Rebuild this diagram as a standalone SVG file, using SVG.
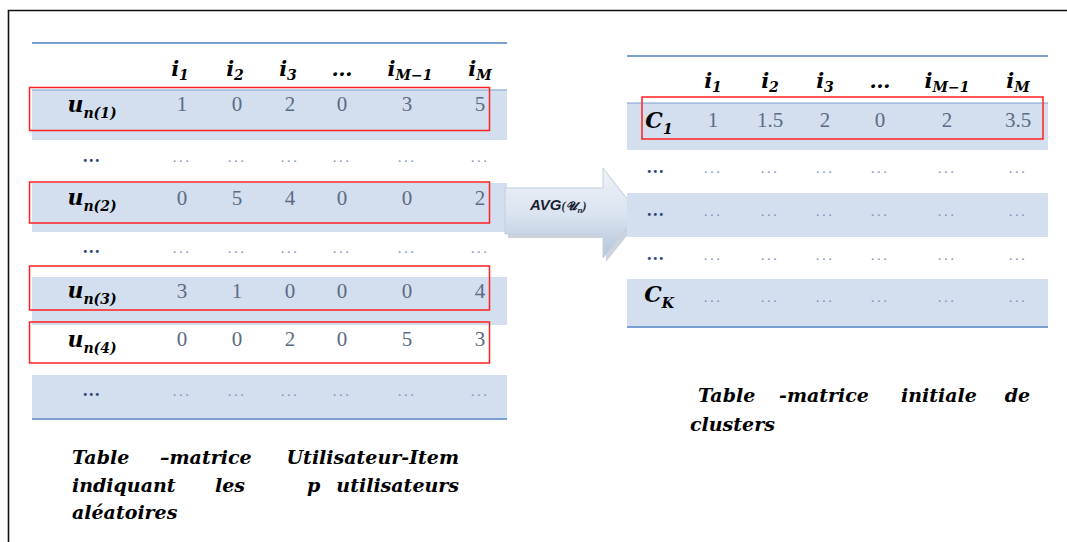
<svg xmlns="http://www.w3.org/2000/svg" width="1067" height="542" viewBox="0 0 1067 542">
<defs>
<linearGradient id="ag" x1="0" y1="0" x2="0" y2="1">
<stop offset="0" stop-color="#eef2f8"/>
<stop offset="0.5" stop-color="#dbe4f0"/>
<stop offset="1" stop-color="#b4c4da"/>
</linearGradient>
<style>
.shade{fill:#d3dfee}
.rule{stroke:#7b9fcf;stroke-width:2}
.thin{stroke:#7b9fcf;stroke-width:1.2}
.red{fill:none;stroke:#ff2020;stroke-width:1.5}
.hd{font-family:"DejaVu Serif",serif;font-weight:bold;font-style:italic;font-size:21px;fill:#000;text-anchor:middle}
.sub{font-size:14px}
.val{font-family:"Liberation Serif",serif;font-size:21px;fill:#5b6b84;text-anchor:middle}
.dot{font-family:"Liberation Serif",serif;font-size:15px;fill:#7f93b8;text-anchor:middle;letter-spacing:2.5px}
.bdot{font-family:"Liberation Serif",serif;font-size:18px;font-weight:bold;fill:#30487a;text-anchor:middle;letter-spacing:1.5px}
.lbl{font-family:"DejaVu Serif",serif;font-weight:bold;font-style:italic;font-size:22px;fill:#000;text-anchor:middle}
.cap{font-family:"DejaVu Serif",serif;font-weight:bold;font-style:italic;font-size:19px;fill:#000}
</style>
</defs>
<rect width="1067" height="542" fill="#fff"/>
<path d="M8.5,542 V10.5 H1067" fill="none" stroke="#111" stroke-width="1.6"/>

<g id="left-table">
<line class="rule" x1="32" y1="43" x2="507" y2="43"/>
<rect class="shade" x="32" y="90" width="475" height="50"/>
<line class="thin" x1="32" y1="90" x2="507" y2="90"/>
<rect class="shade" x="32" y="183" width="475" height="49"/>
<rect class="shade" x="32" y="277" width="475" height="48"/>
<rect class="shade" x="32" y="375" width="475" height="43"/>
<line class="rule" x1="32" y1="419" x2="507" y2="419"/>
<g class="hdr">
<text class="hd" x="180" y="76">i<tspan class="sub" dy="4">1</tspan></text>
<text class="hd" x="235" y="76">i<tspan class="sub" dy="4">2</tspan></text>
<text class="hd" x="288" y="76">i<tspan class="sub" dy="4">3</tspan></text>
<text class="hd" x="342" y="76">…</text>
<text class="hd" x="410" y="76">i<tspan class="sub" dy="4">M−1</tspan></text>
<text class="hd" x="480" y="76">i<tspan class="sub" dy="4">M</tspan></text>
</g>
<g id="row-un1">
<text class="lbl" x="92" y="112">u<tspan class="sub" font-size="15" dy="6">n(1)</tspan></text>
<text class="val" x="182" y="111">1</text><text class="val" x="237" y="111">0</text><text class="val" x="290" y="111">2</text><text class="val" x="342" y="111">0</text><text class="val" x="407" y="111">3</text><text class="val" x="480" y="111">5</text>
</g>
<g id="row-dots1">
<text class="bdot" x="92" y="162">...</text>
<text class="dot" x="182" y="162">...</text><text class="dot" x="237" y="162">...</text><text class="dot" x="290" y="162">...</text><text class="dot" x="342" y="162">...</text><text class="dot" x="407" y="162">...</text><text class="dot" x="480" y="162">...</text>
</g>
<g id="row-un2">
<text class="lbl" x="92" y="205">u<tspan class="sub" font-size="15" dy="6">n(2)</tspan></text>
<text class="val" x="182" y="205">0</text><text class="val" x="237" y="205">5</text><text class="val" x="290" y="205">4</text><text class="val" x="342" y="205">0</text><text class="val" x="407" y="205">0</text><text class="val" x="480" y="205">2</text>
</g>
<g id="row-dots2">
<text class="bdot" x="92" y="253">...</text>
<text class="dot" x="182" y="253">...</text><text class="dot" x="237" y="253">...</text><text class="dot" x="290" y="253">...</text><text class="dot" x="342" y="253">...</text><text class="dot" x="407" y="253">...</text><text class="dot" x="480" y="253">...</text>
</g>
<g id="row-un3">
<text class="lbl" x="92" y="298">u<tspan class="sub" font-size="15" dy="6">n(3)</tspan></text>
<text class="val" x="182" y="298">3</text><text class="val" x="237" y="298">1</text><text class="val" x="290" y="298">0</text><text class="val" x="342" y="298">0</text><text class="val" x="407" y="298">0</text><text class="val" x="480" y="298">4</text>
</g>
<g id="row-un4">
<text class="lbl" x="92" y="347">u<tspan class="sub" font-size="15" dy="6">n(4)</tspan></text>
<text class="val" x="182" y="346">0</text><text class="val" x="237" y="346">0</text><text class="val" x="290" y="346">2</text><text class="val" x="342" y="346">0</text><text class="val" x="407" y="346">5</text><text class="val" x="480" y="346">3</text>
</g>
<g id="row-dots3">
<text class="bdot" x="92" y="396">...</text>
<text class="dot" x="182" y="396">...</text><text class="dot" x="237" y="396">...</text><text class="dot" x="290" y="396">...</text><text class="dot" x="342" y="396">...</text><text class="dot" x="407" y="396">...</text><text class="dot" x="480" y="396">...</text>
</g>
</g>

<g id="highlights-left">
<rect class="red" x="29.5" y="87.5" width="460" height="43"/>
<rect class="red" x="29.5" y="182" width="460" height="41"/>
<rect class="red" x="29.5" y="266" width="460" height="44"/>
<rect class="red" x="29.5" y="322" width="460" height="41"/>
</g>

<g id="avg-arrow">
<polygon points="508,192 606,192 606,172 642,217 606,262 606,238 508,238" fill="#9aa8bb" opacity="0.5"/>
<polygon points="505,188 603,188 603,168 638,213 603,258 603,234 505,234" fill="url(#ag)" stroke="#c2cfe0" stroke-width="1"/>
<text x="530" y="210" font-family="Liberation Sans,sans-serif" font-weight="bold" font-style="italic" font-size="15" fill="#1a1f33">AVG<tspan font-size="12" font-family="Liberation Serif,serif">(</tspan><tspan font-size="12" dx="1" font-family="Liberation Serif,serif">𝓤</tspan><tspan font-size="9" dy="3" font-family="Liberation Serif,serif">n</tspan><tspan font-size="12" dy="-3" font-family="Liberation Serif,serif">)</tspan></text>
</g>

<g id="right-table">
<line class="rule" x1="627" y1="56" x2="1048" y2="56"/>
<rect class="shade" x="627" y="103" width="421" height="47"/>
<line class="thin" x1="627" y1="103" x2="1048" y2="103"/>
<rect class="shade" x="627" y="193" width="421" height="44"/>
<rect class="shade" x="627" y="279" width="421" height="48"/>
<line class="rule" x1="627" y1="327" x2="1048" y2="327"/>
<g class="hdr">
<text class="hd" x="713" y="88">i<tspan class="sub" dy="4">1</tspan></text>
<text class="hd" x="770" y="88">i<tspan class="sub" dy="4">2</tspan></text>
<text class="hd" x="825" y="88">i<tspan class="sub" dy="4">3</tspan></text>
<text class="hd" x="880" y="88">…</text>
<text class="hd" x="947" y="88">i<tspan class="sub" dy="4">M−1</tspan></text>
<text class="hd" x="1018" y="88">i<tspan class="sub" dy="4">M</tspan></text>
</g>
<g id="row-c1">
<text class="lbl" x="659" y="128">C<tspan class="sub" font-size="16" dy="6">1</tspan></text>
<text class="val" x="713" y="127">1</text><text class="val" x="770" y="127">1.5</text><text class="val" x="825" y="127">2</text><text class="val" x="880" y="127">0</text><text class="val" x="947" y="127">2</text><text class="val" x="1018" y="127">3.5</text>
</g>
<g id="row-rdots1">
<text class="bdot" x="656" y="173">...</text>
<text class="dot" x="713" y="173">...</text><text class="dot" x="770" y="173">...</text><text class="dot" x="825" y="173">...</text><text class="dot" x="880" y="173">...</text><text class="dot" x="947" y="173">...</text><text class="dot" x="1018" y="173">...</text>
</g>
<g id="row-rdots2">
<text class="bdot" x="656" y="216">...</text>
<text class="dot" x="713" y="216">...</text><text class="dot" x="770" y="216">...</text><text class="dot" x="825" y="216">...</text><text class="dot" x="880" y="216">...</text><text class="dot" x="947" y="216">...</text><text class="dot" x="1018" y="216">...</text>
</g>
<g id="row-rdots3">
<text class="bdot" x="656" y="260">...</text>
<text class="dot" x="713" y="260">...</text><text class="dot" x="770" y="260">...</text><text class="dot" x="825" y="260">...</text><text class="dot" x="880" y="260">...</text><text class="dot" x="947" y="260">...</text><text class="dot" x="1018" y="260">...</text>
</g>
<g id="row-ck">
<text class="lbl" x="659" y="302">C<tspan class="sub" font-size="16" dy="6">K</tspan></text>
<text class="dot" x="713" y="302">...</text><text class="dot" x="770" y="302">...</text><text class="dot" x="825" y="302">...</text><text class="dot" x="880" y="302">...</text><text class="dot" x="947" y="302">...</text><text class="dot" x="1018" y="302">...</text>
</g>
</g>
<g id="highlight-right">
<rect class="red" x="642" y="97" width="401" height="42"/>
</g>

<g id="caption-left">
<text class="cap" x="72" y="464">Table</text>
<text class="cap" x="160" y="464">–matrice</text>
<text class="cap" x="459" y="464" text-anchor="end">Utilisateur-Item</text>
<text class="cap" x="72" y="492">indiquant</text>
<text class="cap" x="215" y="492">les</text>
<text class="cap" x="307" y="492">p</text>
<text class="cap" x="459" y="492" text-anchor="end">utilisateurs</text>
<text class="cap" x="72" y="519">aléatoires</text>
</g>
<g id="caption-right">
<text class="cap" x="698" y="402">Table</text>
<text class="cap" x="779" y="402">-matrice</text>
<text class="cap" x="901" y="402">initiale</text>
<text class="cap" x="1030" y="402" text-anchor="end">de</text>
<text class="cap" x="690" y="431">clusters</text>
</g>
</svg>
